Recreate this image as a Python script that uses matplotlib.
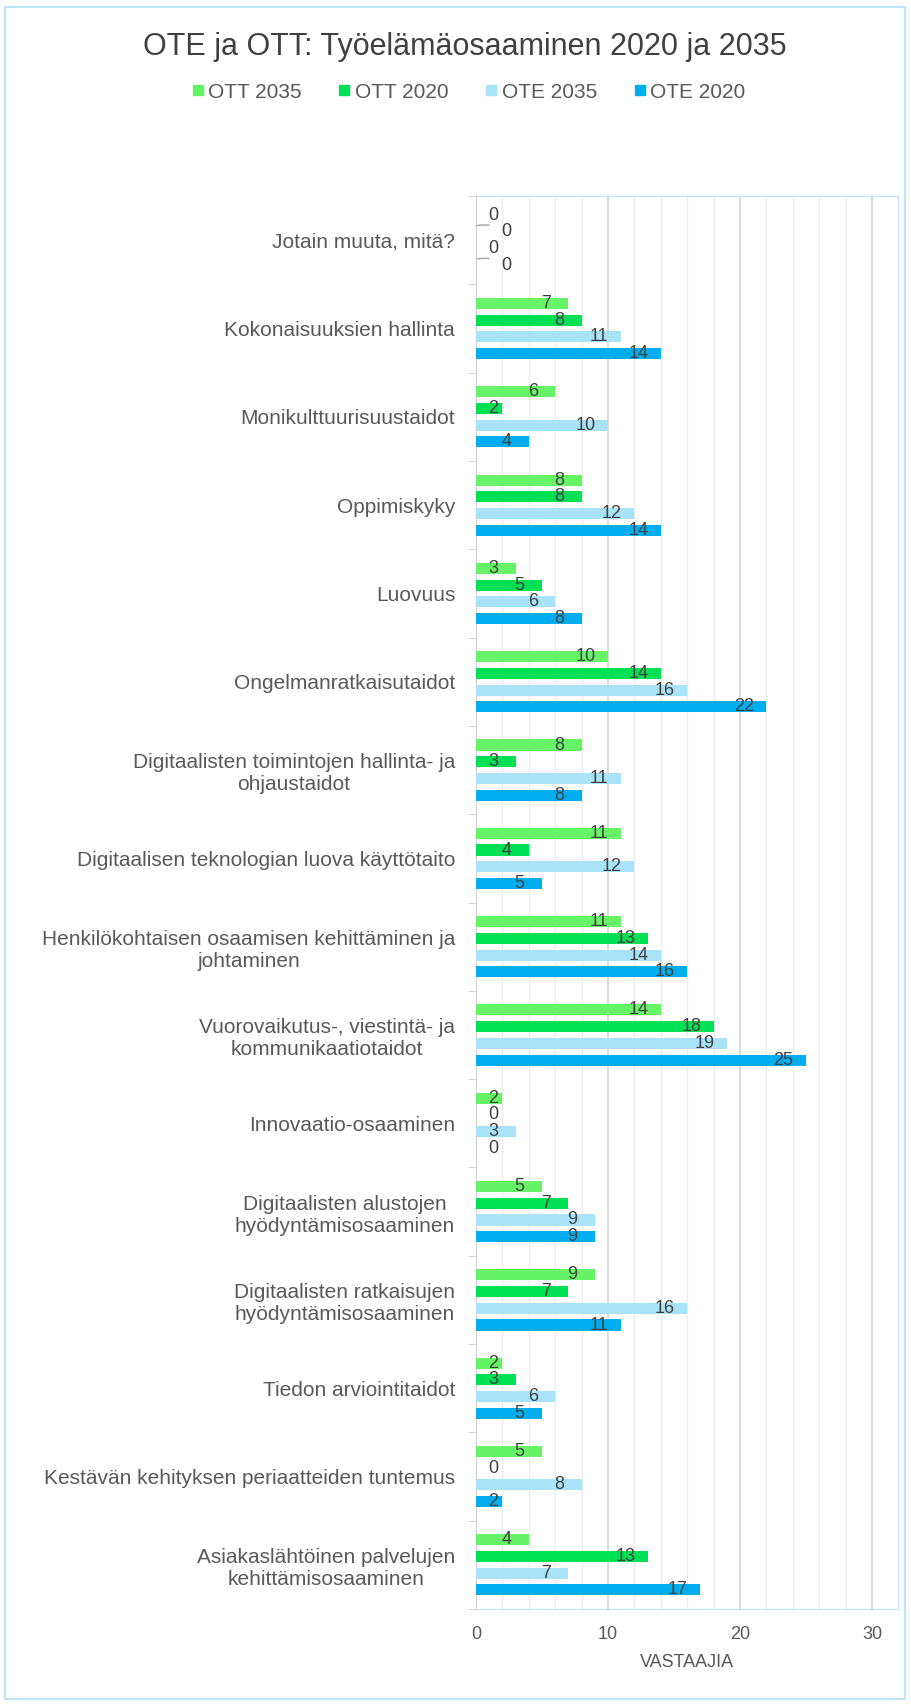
import numpy as np
import matplotlib.pyplot as plt
from matplotlib.lines import Line2D
from matplotlib.patches import Rectangle

plt.rcParams["font.family"] = ["Liberation Sans", "DejaVu Sans"]

categories = [
    "Jotain muuta, mitä?",
    "Kokonaisuuksien hallinta",
    "Monikulttuurisuustaidot",
    "Oppimiskyky",
    "Luovuus",
    "Ongelmanratkaisutaidot",
    "Digitaalisten toimintojen hallinta- ja\nohjaustaidot",
    "Digitaalisen teknologian luova käyttötaito",
    "Henkilökohtaisen osaamisen kehittäminen ja\njohtaminen",
    "Vuorovaikutus-, viestintä- ja\nkommunikaatiotaidot",
    "Innovaatio-osaaminen",
    "Digitaalisten alustojen\nhyödyntämisosaaminen",
    "Digitaalisten ratkaisujen\nhyödyntämisosaaminen",
    "Tiedon arviointitaidot",
    "Kestävän kehityksen periaatteiden tuntemus",
    "Asiakaslähtöinen palvelujen\nkehittämisosaaminen",
]

series_names = ["OTT 2035", "OTT 2020", "OTE 2035", "OTE 2020"]
ott_2035 = [0, 7, 6, 8, 3, 10, 8, 11, 11, 14, 2, 5, 9, 2, 5, 4]
ott_2020 = [0, 8, 2, 8, 5, 14, 3, 4, 13, 18, 0, 7, 7, 3, 0, 13]
ote_2035 = [0, 11, 10, 12, 6, 16, 11, 12, 14, 19, 3, 9, 16, 6, 8, 7]
ote_2020 = [0, 14, 4, 14, 8, 22, 8, 5, 16, 25, 0, 9, 11, 5, 2, 17]

colors = ["#66F466", "#00E055", "#A8E3F8", "#00AEEF"]
frame_blue = "#BFE6F6"
text_gray = "#595959"

fig = plt.figure(figsize=(9.12, 17.04), dpi=100)
ax = fig.add_axes([0.522, 0.0557, 0.463, 0.8293])

y = np.arange(len(categories))
pitch = 0.189
bar_h = 0.125
all_series = [ott_2035, ott_2020, ote_2035, ote_2020]
all_zero = [all(s[i] == 0 for s in all_series) for i in range(len(categories))]

for j, vals in enumerate(all_series):
    pos = y + (j - 1.5) * pitch
    ax.barh(pos, vals, height=bar_h, color=colors[j], zorder=3)
    for i, (p, v) in enumerate(zip(pos, vals)):
        if all_zero[i] and j % 2 == 1:
            # staggered label with a leader line, like Excel does
            ax.annotate(str(v), xy=(0.05, p - 0.07), xytext=(2.3, p),
                        ha="center", va="center", fontsize=13, color="#404040",
                        arrowprops=dict(arrowstyle="-", color="#A6A6A6", lw=1,
                                        shrinkA=7, shrinkB=0,
                                        connectionstyle="arc3,rad=0.2"),
                        zorder=4)
            continue
        xl = max(v - 1.7, 1.3)
        ax.text(xl, p, str(v), ha="center", va="center", fontsize=13,
                color="#404040", zorder=4)

ax.set_xlim(0, 32)
ax.set_ylim(len(categories) - 0.5, -0.5)

ax.set_xticks([0, 10, 20, 30])
ax.set_xticks(np.arange(0, 33, 2), minor=True)
ax.tick_params(axis="x", which="both", length=0, labelsize=13,
               labelcolor=text_gray, pad=12)
ax.grid(axis="x", which="minor", color="#ECECEC", lw=1, zorder=0)
ax.grid(axis="x", which="major", color="#D6D6D6", lw=1.2, zorder=1)

ax.set_yticks(y)
ax.set_yticklabels(categories, fontsize=15, color=text_gray,
                   multialignment="center")
ax.set_yticks(np.arange(-0.5, len(categories), 1), minor=True)
ax.tick_params(axis="y", which="major", length=0, pad=15)
ax.tick_params(axis="y", which="minor", length=6, color="#D0D0D0")

for side in ["top", "right", "bottom"]:
    ax.spines[side].set_color(frame_blue)
ax.spines["left"].set_color("#D0D0D0")

ax.set_xlabel("VASTAAJIA", fontsize=13, color=text_gray, labelpad=8)

fig.suptitle("OTE ja OTT: Työelämäosaaminen 2020 ja 2035", x=0.51, y=0.981,
             fontsize=22, color="#404040")

handles = [Line2D([], [], marker="s", ls="", color=c, markersize=7)
           for c in colors]
fig.legend(handles, series_names, loc="center", bbox_to_anchor=(0.513, 0.946),
           ncol=4, frameon=False, fontsize=15, handlelength=0.7,
           handletextpad=0.15, columnspacing=1.7, labelcolor=text_gray)

fig.add_artist(Rectangle((0.006, 0.003), 0.986, 0.993, transform=fig.transFigure,
                         fill=False, edgecolor=frame_blue, lw=1.5))

fig.savefig("out.png", dpi=100)
